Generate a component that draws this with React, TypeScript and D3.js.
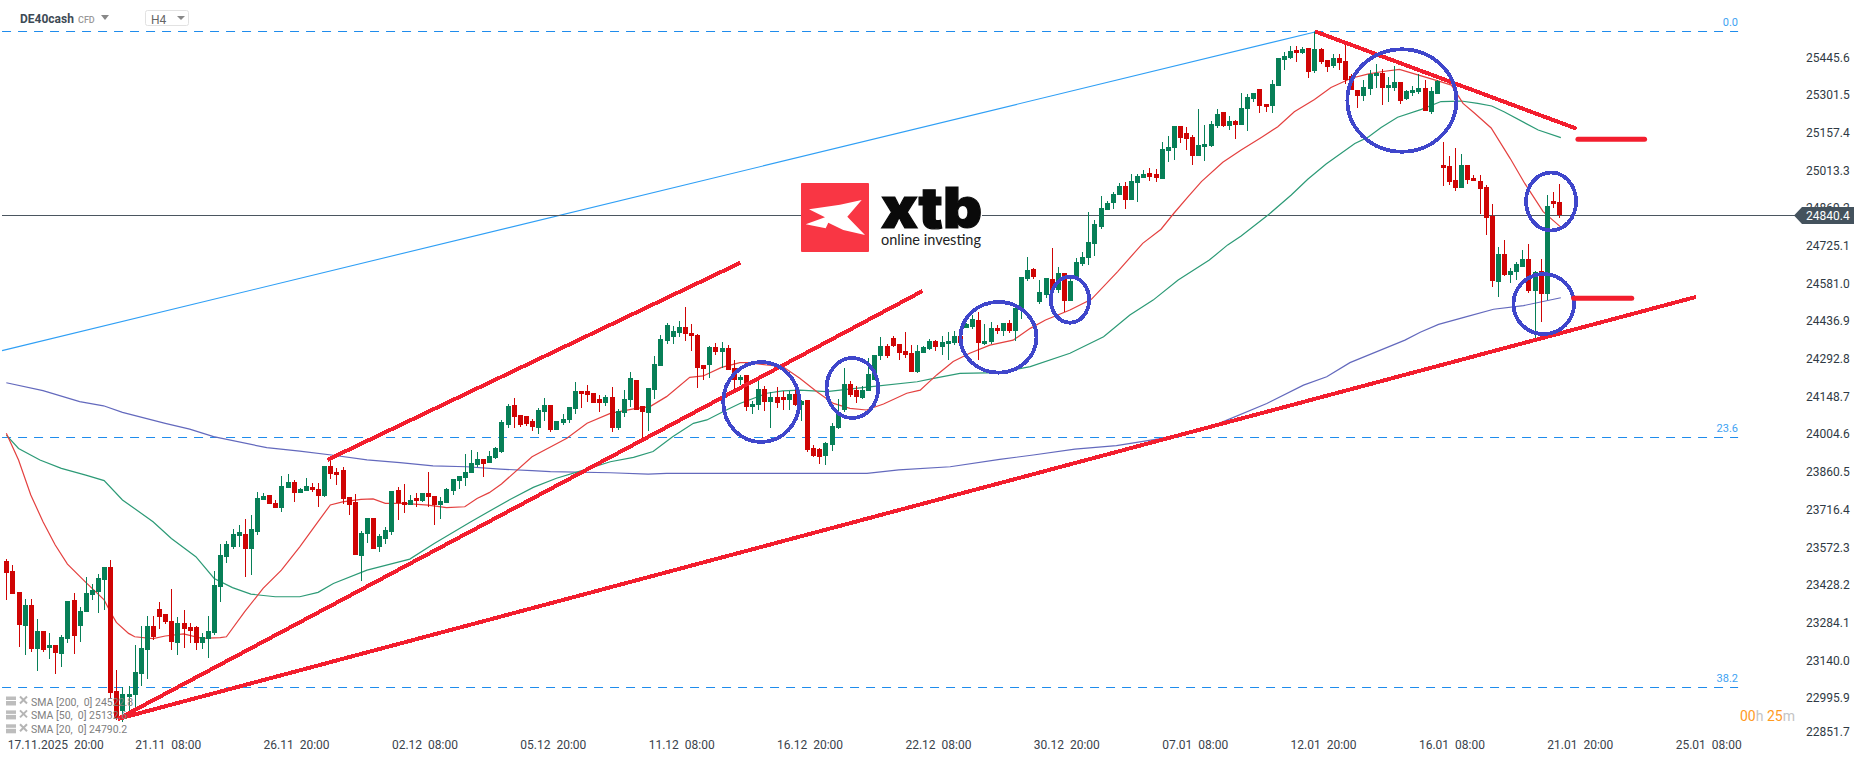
import { useEffect, useRef } from "react";
import * as d3 from "d3";

const opens = [
  23520,23481,23401,23271,23351,23183,23252,23187,23199,23164,
  23222,23371,23271,23325,23390,23401,23447,23497,23023,22946,
  23000,23007,23088,23179,23271,23336,23317,23290,23206,23283,
  23267,23267,23206,23220,23244,23420,23535,23573,23615,23623,
  23566,23631,23753,23772,23741,23722,23799,23822,23780,23787,
  23803,23795,23768,23883,23860,23868,23764,23745,23539,23623,
  23684,23573,23604,23631,23791,23745,23734,23761,23749,23780,
  23768,23734,23741,23787,23826,23837,23856,23887,23910,23894,
  23913,23938,24040,24116,24078,24074,24055,24028,24089,24116,
  24020,24047,24059,24101,24170,24170,24162,24139,24124,24147,
  24028,24085,24135,24212,24112,24085,24173,24265,24361,24376,
  24391,24414,24391,24384,24269,24269,24338,24319,24334,24257,
  24212,24231,24108,24116,24177,24127,24147,24147,24135,24158,
  24116,24135,23952,23948,23921,23963,24028,24097,24196,24173,
  24143,24170,24212,24303,24342,24372,24349,24322,24315,24242,
  24315,24330,24361,24338,24349,24353,24380,24410,24414,24441,
  24349,24357,24410,24399,24429,24399,24479,24598,24636,24510,
  24537,24598,24556,24621,24514,24605,24655,24678,24731,24796,
  24861,24888,24919,24953,24900,24965,24984,25003,25000,24980,
  25087,25098,25183,25156,25140,25068,25102,25106,25183,25236,
  25183,25202,25186,25248,25286,25324,25267,25259,25335,25435,
  25442,25473,25462,25481,25393,25477,25435,25412,25442,25431,
  25374,25320,25297,25324,25374,25385,25328,25328,25351,25286,
  25309,25313,25328,25236,25305,25033,25030,24976,24946,25033,
  24984,24972,24949,24839,24586,24693,24613,24624,24644,24674,
  24552,24628,24540,24896,24892,
];
const highs = [
  23527,23504,23401,23374,23374,23298,23252,23243,23199,23237,
  23368,23396,23345,23460,23432,23470,23498,23524,23103,23039,
  23042,23199,23271,23309,23309,23363,23317,23413,23306,23332,
  23283,23271,23244,23309,23481,23585,23596,23642,23657,23680,
  23696,23783,23780,23772,23753,23845,23852,23829,23797,23837,
  23817,23817,23883,23906,23874,23878,23764,23776,23636,23684,
  23684,23623,23650,23787,23801,23814,23772,23778,23780,23860,
  23768,23764,23800,23834,23845,23929,23944,23936,23910,23941,
  23955,24059,24120,24143,24078,24074,24062,24105,24143,24116,
  24055,24082,24108,24204,24170,24192,24162,24154,24154,24185,
  24101,24173,24242,24212,24112,24181,24303,24382,24429,24418,
  24437,24491,24426,24386,24269,24341,24353,24357,24345,24288,
  24231,24231,24131,24212,24189,24166,24185,24170,24170,24180,
  24135,24135,23962,23952,23975,24046,24139,24257,24208,24189,
  24189,24296,24307,24375,24349,24380,24349,24395,24345,24345,
  24341,24367,24364,24380,24395,24399,24380,24428,24460,24472,
  24426,24433,24422,24429,24441,24498,24605,24682,24640,24594,
  24601,24716,24644,24621,24609,24678,24701,24854,24823,24915,
  24896,24930,24965,24969,25000,25000,25014,25022,25018,25121,
  25144,25183,25183,25179,25148,25248,25186,25200,25248,25236,
  25221,25205,25309,25305,25309,25324,25267,25358,25442,25465,
  25488,25488,25485,25481,25542,25481,25435,25458,25458,25496,
  25381,25320,25358,25397,25420,25400,25370,25412,25351,25320,
  25335,25381,25358,25332,25358,25121,25068,25098,25076,25033,
  24995,24995,24957,24884,24720,24747,24640,24663,24709,24732,
  24628,24674,24919,24930,24961,
];
const lows = [
  23371,23394,23192,23160,23173,23099,23173,23145,23088,23116,
  23208,23164,23211,23325,23371,23322,23332,22995,22912,22906,
  22937,22950,23042,23069,23218,23260,23278,23179,23160,23187,
  23205,23179,23182,23149,23237,23363,23512,23566,23574,23460,
  23466,23619,23753,23738,23722,23707,23799,23745,23780,23787,
  23783,23726,23766,23833,23810,23738,23696,23543,23443,23587,
  23566,23554,23585,23619,23676,23702,23734,23726,23745,23727,
  23657,23680,23741,23772,23795,23806,23856,23880,23841,23894,
  23910,23934,24029,24028,24032,24036,24017,24005,24055,24013,
  24020,24040,24047,24082,24105,24127,24124,24089,24112,24013,
  24020,24070,24108,24097,23986,24017,24139,24265,24349,24349,
  24376,24361,24322,24181,24212,24219,24307,24257,24250,24173,
  24192,24093,24082,24097,24093,24028,24105,24097,24097,24112,
  24055,23935,23917,23890,23887,23940,24024,24089,24147,24124,
  24139,24170,24212,24288,24296,24338,24288,24296,24242,24238,
  24315,24326,24322,24307,24288,24345,24353,24410,24407,24288,
  24345,24349,24387,24380,24391,24361,24445,24590,24598,24502,
  24525,24556,24544,24472,24514,24605,24647,24651,24686,24789,
  24861,24865,24919,24865,24900,24892,24984,24972,24969,24980,
  25045,25053,25118,25091,25033,25068,25049,25102,25175,25179,
  25167,25133,25186,25163,25274,25232,25236,25232,25335,25397,
  25439,25427,25458,25366,25385,25420,25389,25404,25397,25343,
  25320,25251,25278,25301,25328,25263,25274,25316,25267,25282,
  25297,25305,25240,25228,25305,24953,24957,24934,24946,24961,
  24972,24846,24766,24567,24529,24609,24582,24594,24644,24544,
  24368,24433,24517,24869,24831,
];
const closes = [
  23475,23394,23275,23351,23183,23252,23179,23199,23168,23229,
  23367,23233,23329,23397,23409,23455,23497,23016,22918,23011,
  23011,23095,23187,23271,23229,23306,23287,23210,23283,23260,
  23252,23206,23229,23252,23428,23543,23585,23623,23631,23566,
  23642,23761,23768,23738,23722,23806,23822,23780,23795,23806,
  23791,23768,23883,23852,23848,23757,23734,23543,23627,23684,
  23566,23615,23638,23787,23741,23734,23753,23749,23780,23764,
  23734,23749,23795,23833,23845,23860,23893,23910,23890,23921,
  23952,24051,24112,24070,24040,24043,24032,24097,24116,24020,
  24055,24062,24108,24170,24158,24154,24124,24124,24147,24028,
  24093,24139,24219,24097,24089,24181,24273,24368,24422,24399,
  24414,24387,24380,24257,24254,24338,24319,24334,24250,24212,
  24223,24108,24120,24177,24127,24147,24124,24135,24158,24116,
  24131,23944,23921,23917,23971,24036,24085,24196,24154,24147,
  24173,24234,24307,24342,24303,24342,24315,24307,24242,24322,
  24338,24361,24338,24357,24361,24380,24353,24426,24445,24353,
  24361,24410,24399,24429,24399,24487,24605,24632,24605,24548,
  24601,24556,24621,24514,24590,24663,24682,24739,24808,24869,
  24888,24923,24953,24900,24972,24991,25000,24988,24984,25095,
  25102,25183,25137,25133,25068,25110,25114,25190,25228,25183,
  25202,25186,25251,25293,25309,25259,25255,25343,25442,25450,
  25469,25462,25477,25389,25477,25427,25408,25442,25423,25358,
  25320,25297,25332,25381,25385,25328,25339,25351,25278,25316,
  25320,25328,25240,25316,25355,25022,24969,24946,25033,24976,
  24972,24942,24831,24590,24693,24613,24628,24655,24674,24552,
  24624,24540,24877,24884,24842,
];

const sma20Bars = [0,2,4,6,8,10,13,16,17,18,20,21,24,26,29,32,35,36,39,42,45,48,51,53,55,58,60,62,65,69,72,75,77,79,81,86,91.7,95,98.8,102.6,105.3,108,111.8,114,117,120,121.4,124.4,127,129.8,132.6,135.3,138,140.7,143.5,147.3,149.5,152.2,154.9,157.6,160.9,164.7,167.5,170,174,177.5,181.8,185.9,188.9,191,193.3,195.5,199,202,205.3,208,210.7,214,216.7,220,222.7,224.9,227.9,230.9,234.2,236.4,238.3,240.2,242.9,246,248.4,251.4,254.2];
const sma20Values = [24008,23906,23772,23670,23581,23508,23438,23371,23326,23285,23243,23230,23223,23233,23241,23224,23227,23230,23326,23415,23485,23574,23670,23734,23746,23755,23757,23740,23740,23733,23724,23727,23759,23781,23814,23918,23989,24046,24084,24101,24110,24148,24222,24227,24260,24278,24278,24269,24263,24218,24167,24122,24103,24097,24120,24161,24173,24231,24282,24314,24345,24364,24409,24441,24479,24520,24626,24734,24788,24849,24912,24970,25044,25091,25139,25180,25237,25284,25330,25365,25381,25390,25399,25378,25355,25339,25269,25231,25175,25059,24963,24855,24798];
const sma50Bars = [0,2,5.5,9,13,16,19,24,27,31,34,37,40,44,48,51,53.5,59,66,70,76,82.4,86.2,90,94.4,98.8,102.6,105.8,109,112.4,114.6,117.8,120,124.4,127,129.8,134.2,140.8,149,151.7,156,162.5,167.5,174,179.5,183.8,187.6,191.7,196.8,199.8,202,206.4,210.2,212.9,215.9,220.6,222.7,224.9,227.6,231.5,234.7,238,240.7,243,245,250.6,254.3];
const sma50Values = [24001,23950,23906,23874,23848,23827,23753,23670,23606,23536,23453,23418,23393,23383,23383,23400,23434,23485,23527,23587,23670,23755,23801,23836,23867,23899,23916,23938,23995,24046,24059,24097,24122,24161,24170,24173,24167,24184,24205,24218,24237,24240,24263,24314,24377,24460,24517,24594,24670,24728,24762,24842,24919,24979,25037,25116,25139,25177,25216,25246,25276,25278,25269,25259,25237,25167,25138];
const sma200Bars = [0,6,12,15.9,19,26,30,33.9,42.6,48,53.5,59,64.4,69.8,75.3,80.8,86,89,98.8,105,108,140.8,146,154.4,162.5,168,174.8,181.6,189.8,198,206.2,212.2,216,219.8,224.2,228.8,231.3,234.3,238.9,243.3,248.2,254.3];
const sma200Values = [24201,24171,24129,24113,24088,24046,24024,23995,23953,23940,23924,23906,23896,23883,23880,23871,23865,23861,23857,23852,23855,23855,23868,23880,23908,23925,23947,23961,23991,24042,24122,24192,24224,24278,24320,24364,24394,24424,24454,24482,24496,24526];

const priceTicks = [25445.6,25301.5,25157.4,25013.3,24869.2,24725.1,24581.0,24436.9,24292.8,24148.7,24004.6,23860.5,23716.4,23572.3,23428.2,23284.1,23140.0,22995.9,22851.7];
const timeTickBars = [8,26.4,47.4,68.4,89.4,110.4,131.4,152.4,173.4,194.4,215.4,236.4,257.4,278.4];
const timeLabels = ["17.11.2025  20:00","21.11  08:00","26.11  20:00","02.12  08:00","05.12  20:00","11.12  08:00","16.12  20:00","22.12  08:00","30.12  20:00","07.01  08:00","12.01  20:00","16.01  08:00","21.01  20:00","25.01  08:00"];

const lastPrice = 24840.4;
const fibLevels = [25543.8, 23992.6, 23037];
const fibLabels = ["0.0", "23.6", "38.2"];
const fibStartBar = -0.7;
const fibEndBar = 283.3;
const fibTrend = [-0.7, 24324, 214.1, 25542];

// bar, price, bar, price
const trendLines = [
  [18.27, 22916, 149.9, 24552],
  [18.27, 22916, 276.4, 24529],
  [52.5, 23906, 120.1, 24660],
  [214.1, 25544, 256.9, 25172],
];
const targetLines = [
  [257.1, 25132, 268, 25132],
  [256.4, 24524, 265.9, 24524],
];
// centre bar, centre price, radius in bars, radius in points
const circles = [
  [123.5, 24127.5, 6.22, 152.9],
  [138.4, 24181, 4.22, 114.7],
  [162.3, 24374.8, 6.22, 135],
  [174, 24518.6, 3.14, 87.9],
  [228.3, 25280, 8.92, 195.7],
  [252.7, 24894, 4.09, 110.9],
  [251.5, 24502, 4.96, 114.7],
];
const legendRows = ["SMA [200,  0] 24522.8", "SMA [50,  0] 25132.6", "SMA [20,  0] 24790.2"];

const FONT = "Roboto, sans-serif";
const GREEN = "#077f57";
const RED = "#cf0404";
const ANNOT_RED = "#f31e2e";

export default function App() {
  const ref = useRef<HTMLDivElement | null>(null);

  useEffect(() => {
    document.body.style.margin = "0";
    const root = d3.select(ref.current);
    root.selectAll("*").remove();

    const svg = root
      .append("svg")
      .attr("width", 1866)
      .attr("height", 761)
      .style("display", "block")
      .style("background", "#fff")
      .style("font-family", FONT);

    const x = d3.scaleLinear().domain([0, 254]).range([6.33, 1559]);
    const y = d3.scaleLinear().domain([22851.7, 25664.2]).range([735.75, 0]);

    // fibo levels and the base line
    fibLevels.forEach((level, i) => {
      svg
        .append("line")
        .attr("x1", x(fibStartBar))
        .attr("x2", x(fibEndBar))
        .attr("y1", Math.round(y(level)) + 0.5)
        .attr("y2", Math.round(y(level)) + 0.5)
        .attr("stroke", "#1f8cec")
        .attr("stroke-width", 1)
        .attr("stroke-dasharray", "9 7");
      svg
        .append("text")
        .attr("x", 1738)
        .attr("y", y(level) - 5)
        .attr("text-anchor", "end")
        .attr("font-size", 11)
        .attr("fill", "#3ea2f2")
        .text(fibLabels[i]);
    });
    svg
      .append("line")
      .attr("x1", x(fibTrend[0]))
      .attr("y1", y(fibTrend[1]))
      .attr("x2", x(fibTrend[2]))
      .attr("y2", y(fibTrend[3]))
      .attr("stroke", "#2f9ff5")
      .attr("stroke-width", 1.1);

    // last price line
    svg
      .append("line")
      .attr("x1", 2)
      .attr("x2", 1800)
      .attr("y1", Math.floor(y(lastPrice)) + 0.5)
      .attr("y2", Math.floor(y(lastPrice)) + 0.5)
      .attr("stroke", "#4b5660")
      .attr("stroke-width", 1.2);

    // moving averages
    const drawSma = (bars: number[], values: number[], colour: string) => {
      const gen = d3
        .line<number>()
        .x((_, i) => x(bars[i]))
        .y(d => y(d));
      svg
        .append("path")
        .attr("d", gen(values))
        .attr("fill", "none")
        .attr("stroke", colour)
        .attr("stroke-width", 1.2);
    };
    drawSma(sma200Bars, sma200Values, "#6369bd");
    drawSma(sma50Bars, sma50Values, "#2c9a76");
    drawSma(sma20Bars, sma20Values, "#e4403f");

    // candles
    const candles = svg.append("g").attr("shape-rendering", "crispEdges");
    closes.forEach((close, i) => {
      const open = opens[i];
      const colour = close >= open ? GREEN : RED;
      const cx = Math.round(x(i));
      const top = Math.round(y(Math.max(open, close)));
      const bottom = Math.round(y(Math.min(open, close)));
      candles
        .append("rect")
        .attr("x", cx)
        .attr("width", 1)
        .attr("y", Math.round(y(highs[i])))
        .attr("height", Math.max(1, Math.round(y(lows[i])) - Math.round(y(highs[i]))))
        .attr("fill", colour);
      candles
        .append("rect")
        .attr("x", cx - 2)
        .attr("width", 5)
        .attr("y", top)
        .attr("height", Math.max(2, bottom - top))
        .attr("fill", colour);
    });

    // logo
    const logo = svg.append("g");
    logo.append("rect").attr("x", 801).attr("y", 183).attr("width", 181).attr("height", 69).attr("fill", "#fff");
    logo.append("rect").attr("x", 801).attr("y", 183).attr("width", 68).attr("height", 69).attr("rx", 1).attr("fill", "#f93644");
    logo
      .append("polygon")
      .attr("points", "809,209.3 840,204.7 861.7,200 847.3,216.7 865,235 843.3,230 828.3,222.7 825.7,228.3 805.7,224.3 825,217.3")
      .attr("fill", "#fff");
    logo
      .append("text")
      .attr("x", 881)
      .attr("y", 228)
      .attr("font-family", "Inter, Roboto, sans-serif")
      .attr("font-size", 56)
      .attr("font-weight", 900)
      .attr("textLength", 101)
      .attr("lengthAdjust", "spacingAndGlyphs")
      .attr("fill", "#0a0a0a")
      .attr("stroke", "#0a0a0a")
      .attr("stroke-width", 1.2)
      .text("xtb");
    logo
      .append("text")
      .attr("x", 881)
      .attr("y", 245)
      .attr("font-family", "Lato, Roboto, sans-serif")
      .attr("font-size", 14.5)
      .attr("textLength", 100)
      .attr("lengthAdjust", "spacingAndGlyphs")
      .attr("fill", "#222")
      .text("online investing");

    // drawn objects
    const drawn = svg.append("g").attr("shape-rendering", "crispEdges");
    trendLines.forEach(d => {
      drawn
        .append("line")
        .attr("x1", x(d[0]))
        .attr("y1", y(d[1]))
        .attr("x2", x(d[2]))
        .attr("y2", y(d[3]))
        .attr("stroke", ANNOT_RED)
        .attr("stroke-width", 4);
    });
    targetLines.forEach(d => {
      svg
        .append("line")
        .attr("x1", x(d[0]))
        .attr("y1", y(d[1]))
        .attr("x2", x(d[2]))
        .attr("y2", y(d[3]))
        .attr("stroke", ANNOT_RED)
        .attr("stroke-width", 5)
        .attr("stroke-linecap", "round");
    });
    circles.forEach(d => {
      drawn
        .append("ellipse")
        .attr("cx", x(d[0]))
        .attr("cy", y(d[1]))
        .attr("rx", x(d[0] + d[2]) - x(d[0]))
        .attr("ry", y(d[1] - d[3]) - y(d[1]))
        .attr("fill", "none")
        .attr("stroke", "#3f46cb")
        .attr("stroke-width", 3.8);
    });

    // price axis
    const priceAxis = svg
      .append("g")
      .attr("transform", "translate(1806,0)")
      .call(
        d3
          .axisRight(y)
          .tickValues(priceTicks)
          .tickFormat(d => (+d).toFixed(1))
          .tickSize(0)
          .tickPadding(0)
      );
    priceAxis.select(".domain").remove();
    priceAxis.selectAll("text").attr("font-size", 12).attr("font-family", FONT).attr("fill", "#2f3a44");
    priceAxis
      .selectAll<SVGTextElement, number>("text")
      .filter(d => d === 22851.7)
      .attr("y", -4);

    // last price tag
    svg
      .append("polygon")
      .attr("points", "1794,215.5 1802,207 1854,207 1854,224 1802,224")
      .attr("fill", "#44525d");
    svg
      .append("text")
      .attr("x", 1806)
      .attr("y", 220)
      .attr("font-size", 12)
      .attr("fill", "#fff")
      .text(lastPrice.toFixed(1));

    // time axis
    const timeAxis = svg
      .append("g")
      .attr("transform", "translate(0,740)")
      .call(
        d3
          .axisBottom(x)
          .tickValues(timeTickBars)
          .tickFormat((_, i) => timeLabels[i])
          .tickSize(0)
          .tickPadding(0)
      );
    timeAxis.select(".domain").remove();
    timeAxis
      .selectAll("text")
      .attr("font-size", 12)
      .attr("font-family", FONT)
      .attr("fill", "#3a434c")
      .style("white-space", "pre");

    // legend, bottom left
    legendRows.forEach((row, i) => {
      const ly = 701.5 + i * 13.9;
      const g = svg.append("g").attr("transform", `translate(0,${ly})`);
      g.append("rect").attr("x", 6).attr("y", -5).attr("width", 10).attr("height", 9).attr("fill", "#bdbdbd");
      g.append("line").attr("x1", 6).attr("x2", 16).attr("y1", -1).attr("y2", -1).attr("stroke", "#fff");
      g.append("path").attr("d", "M20,-5L27,2M27,-5L20,2").attr("stroke", "#b5b5b5").attr("stroke-width", 2).attr("fill", "none");
      g.append("text").attr("x", 31).attr("y", 4).attr("font-size", 10.5).attr("fill", "#808080").style("white-space", "pre").text(row);
    });

    // toolbar
    svg.append("text").attr("x", 20).attr("y", 23).attr("font-size", 12).attr("font-weight", 700).attr("fill", "#3d4a55").text("DE40cash");
    svg.append("text").attr("x", 78).attr("y", 23).attr("font-size", 9).attr("font-weight", 500).attr("fill", "#999").text("CFD");
    svg.append("polygon").attr("points", "101,15 109,15 105,20").attr("fill", "#888");
    svg.append("rect").attr("x", 145.5).attr("y", 10.5).attr("width", 43).attr("height", 15).attr("rx", 2).attr("fill", "#fff").attr("stroke", "#e2e2e2");
    svg.append("text").attr("x", 151).attr("y", 24).attr("font-size", 12).attr("fill", "#666").text("H4");
    svg.append("polygon").attr("points", "177,16 185,16 181,20").attr("fill", "#888");

    // countdown
    const countdown = svg.append("text").attr("x", 1740).attr("y", 721).attr("font-size", 14);
    countdown.append("tspan").attr("fill", "#ff9a1f").text("00");
    countdown.append("tspan").attr("fill", "#c4c4c4").text("h ");
    countdown.append("tspan").attr("fill", "#ff9a1f").text("25");
    countdown.append("tspan").attr("fill", "#c4c4c4").text("m");
  }, []);

  return <div ref={ref}></div>;
}
